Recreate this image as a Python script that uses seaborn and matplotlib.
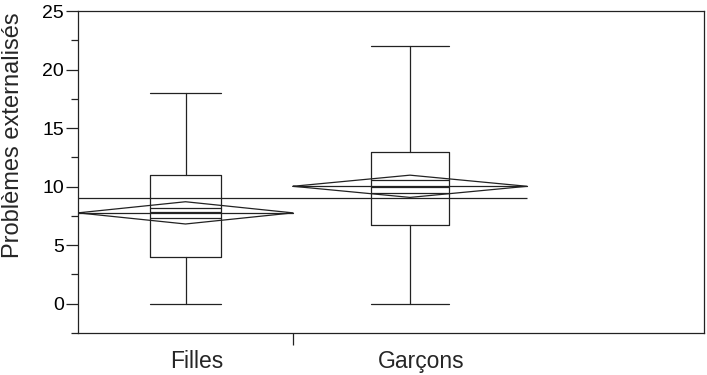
import matplotlib
matplotlib.use("Agg")
import matplotlib.pyplot as plt
import seaborn as sns

# summary values
groups = ["Filles", "Garçons"]
whisker_low = [0, 0]
q1 = [4, 6.7]
medians = [7.8, 10]
q3 = [11, 13]
whisker_high = [18, 22]
means = [7.76, 10.03]
ci_half = [0.95, 0.95]
overlap_half = [0.45, 0.56]
grand_mean = 9.0

sns.set_style("ticks")
plt.rcParams['font.family'] = ['Liberation Sans', 'DejaVu Sans']

line_col = "#222222"
lw = 0.9

# group widths on the x axis (proportional layout, like JMP)
group_width = [215, 234]
x_total = 626
edges = [0, group_width[0], group_width[0] + group_width[1]]
centers = [(edges[i] + edges[i + 1]) / 2 for i in range(2)]
box_w = [w / 3 for w in group_width]

fig = plt.figure(figsize=(7.07, 3.75), dpi=100)
ax = fig.add_axes([78 / 707, 42 / 375, 626 / 707, 322 / 375])

stats = []
for i, g in enumerate(groups):
    stats.append({"label": g, "whislo": whisker_low[i], "q1": q1[i], "med": medians[i],
                  "q3": q3[i], "whishi": whisker_high[i], "fliers": []})

props = dict(color=line_col, linewidth=lw)
ax.bxp(stats, positions=centers, widths=box_w, capwidths=box_w, showfliers=False,
       boxprops=props, whiskerprops=props, capprops=props, medianprops=props,
       manage_ticks=False)

# means diamonds with overlap marks
for i in range(2):
    left, right, c = edges[i], edges[i + 1], centers[i]
    m, h = means[i], ci_half[i]
    ax.plot([left, c, right, c, left], [m, m + h, m, m - h, m], color=line_col, lw=lw)
    ax.plot([left, right], [m, m], color=line_col, lw=lw)
    for s in (1, -1):
        ax.plot([c - box_w[i] / 2, c + box_w[i] / 2], [m + s * overlap_half[i]] * 2,
                color=line_col, lw=lw)

ax.hlines(grand_mean, edges[0], edges[-1], color=line_col, lw=lw)

ax.set_xlim(0, x_total)
ax.set_ylim(-2.5, 25)

ax.set_yticks([0, 5, 10, 15, 20, 25])
ax.set_yticks([-2.5, 2.5, 7.5, 12.5, 17.5, 22.5], minor=True)
ax.tick_params(axis="y", which="major", length=8.6, width=lw, color=line_col,
               labelsize=14, pad=1.5, labelcolor="black")
ax.tick_params(axis="y", which="minor", length=4.8, width=lw, color=line_col)

ax.set_xticks([edges[1]])
ax.set_xticklabels([""])
ax.set_xticks([c + 11 for c in centers], minor=True)
ax.set_xticklabels(groups, minor=True)
ax.tick_params(axis="x", which="major", length=8.6, width=lw, color=line_col)
ax.tick_params(axis="x", which="minor", length=0, labelsize=16.5, pad=12)

ax.set_ylabel("Problèmes externalisés", fontsize=17)
ax.yaxis.set_label_coords(-0.087, 0.615)
ax.set_xlabel("")

for sp in ax.spines.values():
    sp.set_visible(True)
    sp.set_color(line_col)
    sp.set_linewidth(lw)

fig.savefig("out.png", dpi=100)
